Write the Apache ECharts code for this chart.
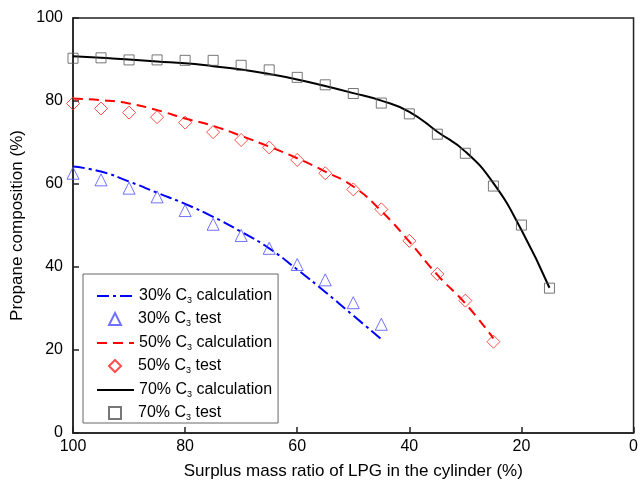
<!DOCTYPE html>
<html>
<head>
<meta charset="utf-8">
<script src="https://cdn.jsdelivr.net/npm/echarts@6/dist/echarts.min.js"></script>
<style>
  html, body { margin: 0; padding: 0; background: #fff; }
  #chart { width: 641px; height: 491px; }
</style>
</head>
<body>
<div id="chart"></div>
<script>
// surplus mass ratio (%) for the calculated curves and the tests
const calcX30 = [100, 95, 90, 85, 80, 75, 70, 65, 60, 55, 50, 45];
const calcY30 = [64.2, 63.0, 60.6, 57.9, 55.2, 52.1, 48.5, 44.5, 39.4, 34.0, 28.3, 22.6];
const testX30 = [100, 95, 90, 85, 80, 75, 70, 65, 60, 55, 50, 45];
const testY30 = [62.6, 61.0, 59.0, 56.9, 53.6, 50.3, 47.6, 44.5, 40.6, 36.9, 31.4, 26.2];

const calcX50 = [100, 95, 90, 85, 80, 75, 70, 65, 60, 55, 50, 45, 40, 35, 30, 25];
const calcY50 = [80.6, 80.2, 79.4, 77.8, 75.8, 74.0, 71.6, 69.0, 66.2, 63.0, 59.4, 53.5, 46.1, 38.1, 31.2, 22.8];
const testX50 = [100, 95, 90, 85, 80, 75, 70, 65, 60, 55, 50, 45, 40, 35, 30, 25];
const testY50 = [79.4, 78.2, 77.2, 76.1, 74.8, 72.5, 70.6, 68.8, 65.8, 62.6, 58.7, 53.9, 46.3, 38.3, 31.9, 22.0];

const calcX70 = [100, 95, 90, 85, 80, 75, 70, 65, 60, 55, 50, 45, 40, 35, 30, 25, 20, 15];
const calcY70 = [90.8, 90.4, 90.0, 89.5, 89.1, 88.4, 87.6, 86.5, 85.2, 83.6, 81.9, 80.1, 77.4, 72.6, 67.8, 60.2, 48.9, 35.0];
const testX70 = [100, 95, 90, 85, 80, 75, 70, 65, 60, 55, 50, 45, 40, 35, 30, 25, 20, 15];
const testY70 = [90.3, 90.4, 89.9, 89.9, 89.8, 89.8, 88.6, 87.5, 85.7, 83.9, 81.8, 79.5, 76.9, 72.0, 67.4, 59.5, 50.1, 34.9];

const xTicks = [0, 20, 40, 60, 80, 100];
const yTicks = [0, 20, 40, 60, 80, 100];

const calcNames = ['30% C3 calculation', '50% C3 calculation', '70% C3 calculation'];
const testNames = ['30% C3 test', '50% C3 test', '70% C3 test'];

const font = '"Liberation Sans", Arial, sans-serif';
const pairs = (xs, ys) => xs.map((x, i) => [x, ys[i]]);

const chart = echarts.init(document.getElementById('chart'));

const calcLine = (name, xs, ys, color, type) => ({
  name: name,
  type: 'line',
  smooth: true,
  symbol: 'none',
  data: pairs(xs, ys),
  lineStyle: { color: color, width: 2, type: type },
  itemStyle: { color: color },
  z: 2,
});

const testPoints = (name, xs, ys, color, symbol, size) => ({
  name: name,
  type: 'scatter',
  symbol: symbol,
  symbolSize: size,
  data: pairs(xs, ys),
  itemStyle: { color: 'rgba(255,255,255,0)', borderColor: color, borderWidth: 1 },
  z: 3,
});

const richText = (lead) => ({
  m: { fontSize: 16, fontFamily: font, color: '#000', lineHeight: 18, padding: [0, 0, 0, lead] },
  n: { fontSize: 16, fontFamily: font, color: '#000', lineHeight: 18 },
  s: { fontSize: 9, fontFamily: font, color: '#000', lineHeight: 9, verticalAlign: 'bottom', padding: [6, 0, 0, 0] },
});

const labelFmt = (name) => {
  const parts = name.split('C3');
  return '{m|' + parts[0] + 'C}{s|3}{n|' + parts[1] + '}';
};

const axisCommon = {
  type: 'value',
  interval: 20,
  nameLocation: 'middle',
  nameTextStyle: { fontSize: 17, fontFamily: font, color: '#000' },
  axisLine: { onZero: false, lineStyle: { color: '#222', width: 1.5 } },
  axisTick: { inside: true, length: 6, lineStyle: { color: '#222', width: 1.5 } },
  splitLine: { show: false },
};

chart.setOption({
  animation: false,
  grid: {
    left: 73, right: 6, top: 18, bottom: 58,
    show: true, borderColor: '#222', borderWidth: 1.5,
  },
  legend: [
    {
      // line rows, also carries the frame of the whole legend
      orient: 'vertical',
      left: 83, top: 274,
      padding: [14, 6, 24, 13],
      itemGap: 30,
      itemWidth: 37,
      itemHeight: 12,
      borderColor: '#666',
      borderWidth: 1,
      backgroundColor: '#fff',
      data: calcNames.map((n) => ({ name: n, itemStyle: { opacity: 0 } })),
      formatter: labelFmt,
      textStyle: { rich: richText(0) },
    },
    {
      // marker rows, placed between the line rows
      orient: 'vertical',
      left: 108, top: 311,
      padding: 0,
      itemGap: 30,
      itemWidth: 12,
      itemHeight: 12,
      data: testNames,
      formatter: labelFmt,
      textStyle: { rich: richText(12) },
    },
  ],
  xAxis: Object.assign({}, axisCommon, {
    inverse: true,
    min: xTicks[0],
    max: xTicks[xTicks.length - 1],
    name: 'Surplus mass ratio of LPG in the cylinder (%)',
    nameGap: 30,
    axisLabel: { fontSize: 16, fontFamily: font, color: '#000', margin: 6 },
  }),
  yAxis: Object.assign({}, axisCommon, {
    min: yTicks[0],
    max: yTicks[yTicks.length - 1],
    name: 'Propane composition (%)',
    nameGap: 44,
    axisLabel: { fontSize: 16, fontFamily: font, color: '#000', margin: 10 },
  }),
  series: [
    calcLine(calcNames[0], calcX30, calcY30, '#0000ff', [12, 4, 3, 4]),
    testPoints(testNames[0], testX30, testY30, '#4d4dff', 'triangle', 12),
    calcLine(calcNames[1], calcX50, calcY50, '#ff0000', [10, 6]),
    testPoints(testNames[1], testX50, testY50, '#ff2020', 'diamond', 13),
    calcLine(calcNames[2], calcX70, calcY70, '#000000', 'solid'),
    testPoints(testNames[2], testX70, testY70, '#555555', 'rect', 10),
  ],
});
</script>
</body>
</html>
